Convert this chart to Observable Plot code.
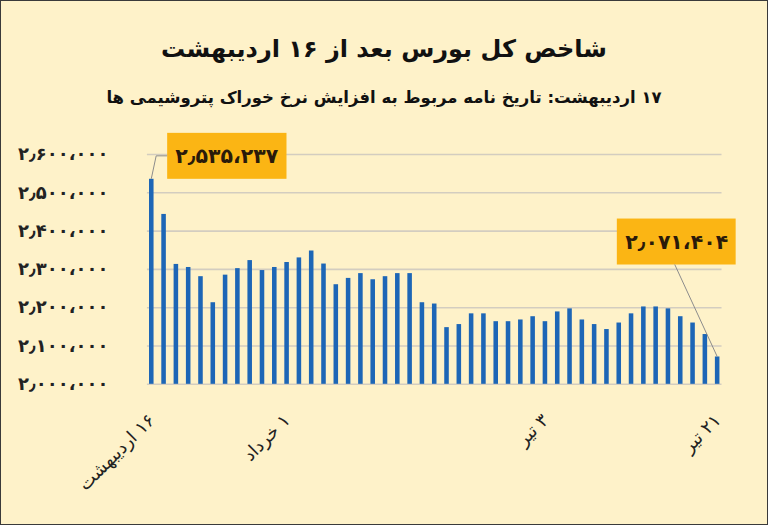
<!DOCTYPE html>
<html><head><meta charset="utf-8">
<script src="https://cdn.jsdelivr.net/npm/d3@7"></script>
<script src="https://cdn.jsdelivr.net/npm/@observablehq/plot@0.6"></script>
<style>
html,body{margin:0;padding:0;background:#fff;}
#wrap{position:relative;width:768px;height:525px;box-sizing:border-box;background:#fef2c9;border:1.5px solid #3a3a3a;overflow:hidden;font-family:"DejaVu Sans",sans-serif;}
#title{position:absolute;top:31px;left:0;width:100%;text-align:center;direction:rtl;font-weight:bold;font-size:24px;line-height:34px;color:#111;}
#subtitle{position:absolute;top:84px;left:0;width:100%;text-align:center;direction:rtl;font-weight:bold;font-size:16.5px;line-height:26px;color:#111;}
#chart{position:absolute;top:118.5px;left:-1.5px;}
</style>
</head><body>
<div id="wrap">
  <div id="title">شاخص کل بورس بعد از ۱۶ اردیبهشت</div>
  <div id="subtitle">۱۷ اردیبهشت: تاریخ نامه مربوط به افزایش نرخ خوراک پتروشیمی ها</div>
  <div id="chart"></div>
</div>
<script>
// ---- data ----
const indexValues = [
  2535237, 2443500, 2313000, 2305000, 2281000, 2213000, 2285000, 2302000,
  2323000, 2297000, 2305000, 2318000, 2330000, 2348000, 2314000, 2260000,
  2276500, 2289000, 2273000, 2281000, 2289000, 2289000, 2213000, 2209600,
  2148000, 2156000, 2184000, 2184000, 2163500, 2163500, 2168000, 2176500,
  2163500, 2189000, 2197000, 2168000, 2156000, 2143000, 2160000, 2184000,
  2202000, 2202000, 2197000, 2176500, 2160000, 2130000, 2071404
];
const dayIndex = indexValues.map((_, i) => i);
const xTickIndex = [0, 11, 32, 46];
const xTickLabels = ["۱۶ اردیبهشت", "۱ خرداد", "۳ تیر", "۲۱ تیر"];
const yTicks = [2000000, 2100000, 2200000, 2300000, 2400000, 2500000, 2600000];
const yBase = 2000000;
const annotatedDays = [0, 46];

const data = dayIndex.map(i => ({i, v: indexValues[i]}));
const fa = s => String(s).replace(/\d/g, d => "۰۱۲۳۴۵۶۷۸۹"[d]);
const fmt = v => {
  const parts = d3.format(",")(v).split(",");
  return fa(parts[0] + "٫" + parts.slice(1).join("،"));
};
const tickLabel = i => "\u202B" + xTickLabels[xTickIndex.indexOf(i)] + "\u202C";

const ann1 = [data[annotatedDays[0]]];
const ann2 = [data[annotatedDays[1]]];

const plot = Plot.plot({
  width: 768, height: 400,
  marginLeft: 147, marginRight: 46, marginTop: 34, marginBottom: 136,
  style: {background: "transparent", fontFamily: "DejaVu Sans", overflow: "visible", color: "#222"},
  x: {type: "band", domain: dayIndex, paddingInner: 0.63, paddingOuter: 0.17, round: false},
  y: {domain: [2000000, 2600000]},
  marks: [
    Plot.gridY(yTicks, {stroke: "#d3cdc0", strokeOpacity: 1, strokeWidth: 1.6}),
    Plot.axisY(yTicks, {tickSize: 0, tickPadding: 39, tickFormat: fmt, fontSize: 18, fontWeight: "bold", label: null}),
    Plot.barY(data, {x: "i", y1: yBase, y2: "v", fill: "#1d66b6"}),
    Plot.axisX(xTickIndex, {tickSize: 0, tickRotate: -45, tickPadding: 33, tickFormat: tickLabel, fontSize: 18, label: null}),
    Plot.text(ann1, {x: "i", y: "v", text: d => fmt(d.v), dx: 75, dy: -23, fontSize: 20.5, fontWeight: "bold", fill: "#2a1a0a"}),
    Plot.text(ann2, {x: "i", y: "v", text: d => fmt(d.v), dx: -41, dy: -115, fontSize: 20.5, fontWeight: "bold", fill: "#2a1a0a"})
  ]
});
document.getElementById("chart").appendChild(plot);

// annotation boxes and leader lines
const svg = d3.select(plot);
const sRect = plot.getBoundingClientRect();
const xs = plot.scale("x"), ys = plot.scale("y");
const bw = xs.bandwidth || 0;
function boxFor(d) {
  const label = fmt(d.v);
  const t = svg.selectAll("text").filter(function() { return this.textContent === label; }).node();
  if (!t) return null;
  const r = t.getBoundingClientRect();
  const padX = 8, padY = 12, th = 22;
  const box = {x: r.left - sRect.left - padX, y: r.top - sRect.top + (r.height - th) / 2 - padY, w: r.width + 2 * padX, h: th + 2 * padY};
  const g = t.parentNode;
  d3.select(g.parentNode).insert("rect", () => g)
    .attr("x", box.x).attr("y", box.y).attr("width", box.w).attr("height", box.h)
    .attr("fill", "#fbb514");
  return box;
}
const b1 = boxFor(ann1[0]);
const b2 = boxFor(ann2[0]);
const p1 = [xs.apply(ann1[0].i) + bw / 2, ys.apply(ann1[0].v)];
const p2 = [xs.apply(ann2[0].i) + bw / 2, ys.apply(ann2[0].v)];
if (b1) {
  const cy1 = b1.y + b1.h / 2;
  svg.append("path")
    .attr("d", `M${p1[0]},${p1[1]}L${b1.x - 11},${cy1}L${b1.x},${cy1}`)
    .attr("fill", "none").attr("stroke", "#8c8c8c").attr("stroke-width", 1);
}
if (b2) {
  svg.append("path")
    .attr("d", `M${p2[0]},${p2[1]}L${b2.x + b2.w / 2 - 1.5},${b2.y + b2.h}`)
    .attr("fill", "none").attr("stroke", "#8c8c8c").attr("stroke-width", 1);
}
</script>
</body></html>
